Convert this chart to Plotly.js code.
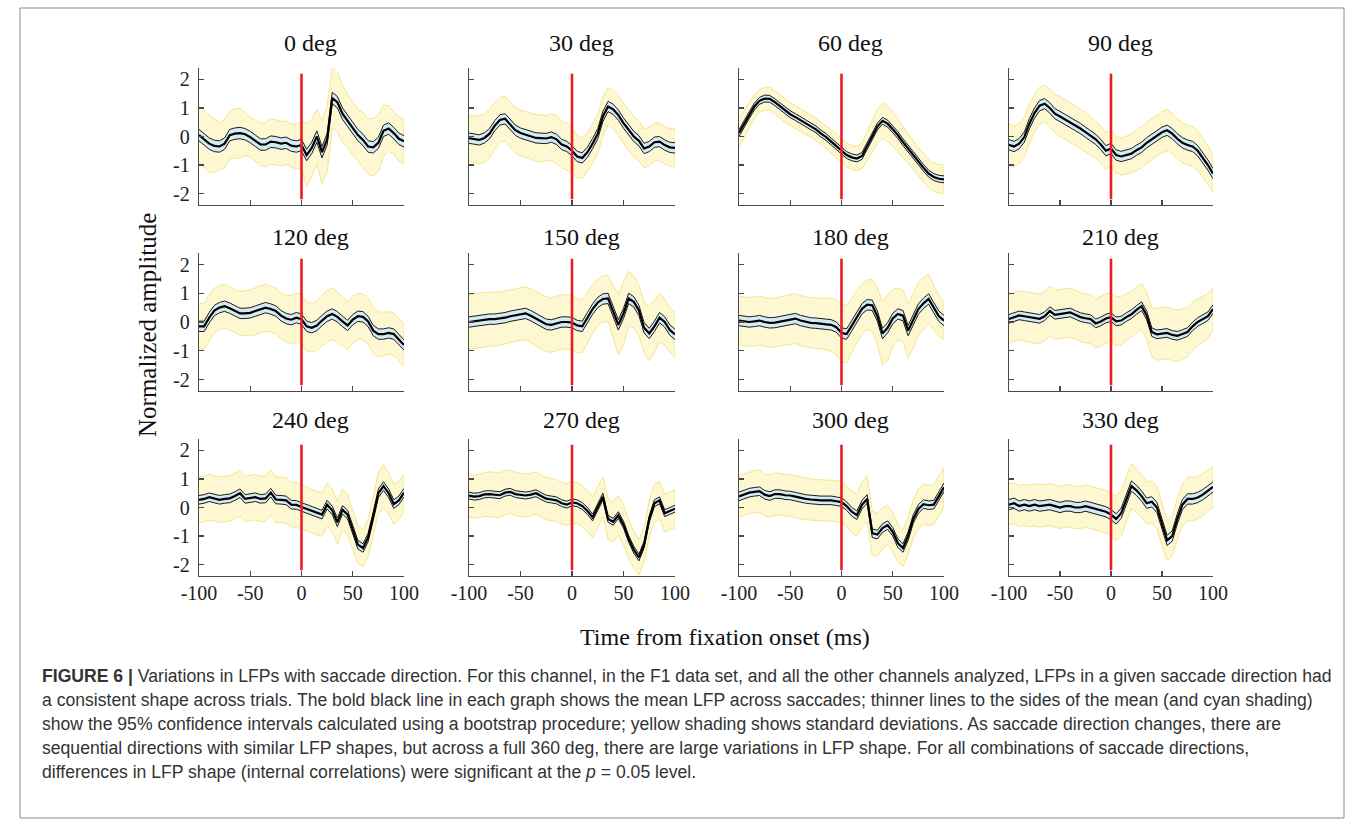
<!DOCTYPE html>
<html><head><meta charset="utf-8">
<script src="https://cdn.plot.ly/plotly-3.0.1.min.js"></script>
<style>html,body{margin:0;padding:0;background:#fff;}#chart{width:1354px;height:825px;}</style>
</head><body><div id="chart"></div>
<script>
// ---------- DATA ----------
const time = [-100,-95,-90,-85,-80,-75,-70,-65,-60,-55,-50,-45,-40,-35,-30,-25,-20,-15,-10,-5,0,5,10,15,20,25,30,35,40,45,50,55,60,65,70,75,80,85,90,95,100];
const directions = ['0 deg','30 deg','60 deg','90 deg','120 deg','150 deg','180 deg','210 deg','240 deg','270 deg','300 deg','330 deg'];
const xTickVals = [-100,-50,0,50,100];
const xTickText = ['-100','-50','0','50','100'];
const yTickVals = [-2,-1,0,1,2];
const yTickText = ['-2','-1','0','1','2'];
const onsetTime = [0,0];
const onsetSpan = [-2.2,2.2];

const mean_0 = [0.05,-0.1,-0.25,-0.33,-0.35,-0.25,0.05,0.1,0.12,0.08,-0.02,-0.15,-0.28,-0.28,-0.18,-0.2,-0.25,-0.22,-0.32,-0.35,-0.3,-0.65,-0.4,0.0,-0.55,-0.1,1.35,1.2,0.8,0.55,0.28,0.05,-0.12,-0.35,-0.38,-0.22,0.2,0.28,0.12,-0.08,-0.17];
const sd_0 = [0.97,0.98,1.0,0.92,0.83,0.84,0.85,0.86,0.87,0.75,0.7,0.72,0.75,0.78,0.8,0.79,0.78,0.76,0.75,0.78,0.84,1.1,1.0,0.95,1.1,1.15,1.05,1.05,1.0,0.92,0.93,0.9,0.96,0.98,1.0,1.0,0.9,0.8,0.73,0.78,0.78];
const mean_30 = [-0.06,-0.1,-0.12,-0.05,0.1,0.38,0.58,0.62,0.42,0.22,0.12,0.07,0.02,-0.05,-0.06,-0.07,-0.02,-0.1,-0.28,-0.35,-0.5,-0.7,-0.75,-0.55,-0.25,0.1,0.7,1.05,0.95,0.75,0.47,0.22,0.0,-0.15,-0.42,-0.35,-0.2,-0.18,-0.3,-0.38,-0.4];
const sd_30 = [0.8,0.82,0.85,0.85,0.85,0.82,0.8,0.78,0.8,0.8,0.8,0.8,0.8,0.82,0.82,0.8,0.82,0.85,0.82,0.82,0.8,0.75,0.7,0.68,0.7,0.7,0.68,0.65,0.68,0.7,0.7,0.72,0.72,0.7,0.68,0.68,0.66,0.66,0.66,0.66,0.68];
const mean_60 = [0.12,0.45,0.75,1.05,1.25,1.33,1.32,1.2,1.05,0.9,0.78,0.68,0.57,0.48,0.38,0.25,0.1,-0.02,-0.18,-0.33,-0.5,-0.65,-0.73,-0.77,-0.68,-0.35,0.0,0.35,0.55,0.45,0.25,0.05,-0.2,-0.43,-0.65,-0.88,-1.1,-1.3,-1.42,-1.48,-1.5];
const sd_60 = [0.5,0.48,0.45,0.42,0.4,0.4,0.4,0.4,0.4,0.4,0.4,0.4,0.4,0.4,0.4,0.4,0.4,0.4,0.42,0.42,0.42,0.42,0.42,0.42,0.45,0.5,0.55,0.6,0.62,0.62,0.6,0.58,0.55,0.52,0.5,0.5,0.5,0.5,0.5,0.5,0.5];
const mean_90 = [-0.29,-0.35,-0.25,-0.02,0.45,0.82,1.08,1.15,1.0,0.8,0.7,0.6,0.5,0.38,0.28,0.15,0.02,-0.1,-0.28,-0.5,-0.42,-0.65,-0.7,-0.65,-0.6,-0.48,-0.38,-0.22,-0.1,0.05,0.15,0.22,0.1,-0.08,-0.22,-0.3,-0.35,-0.5,-0.75,-1.0,-1.3];
const sd_90 = [0.72,0.72,0.7,0.7,0.68,0.66,0.65,0.64,0.66,0.68,0.7,0.7,0.7,0.7,0.68,0.68,0.66,0.65,0.64,0.64,0.64,0.64,0.65,0.66,0.68,0.7,0.72,0.72,0.72,0.72,0.72,0.72,0.7,0.7,0.7,0.7,0.7,0.69,0.68,0.68,0.67];
const mean_120 = [-0.15,-0.15,0.15,0.4,0.5,0.55,0.48,0.38,0.3,0.3,0.32,0.38,0.45,0.5,0.45,0.38,0.22,0.12,0.08,0.15,0.1,-0.15,-0.2,-0.12,0.05,0.2,0.28,0.18,0.02,-0.12,0.08,0.2,0.18,0.02,-0.3,-0.42,-0.42,-0.38,-0.42,-0.6,-0.8];
const sd_120 = [0.78,0.8,0.8,0.78,0.77,0.76,0.75,0.75,0.76,0.78,0.8,0.82,0.82,0.82,0.8,0.8,0.8,0.82,0.84,0.85,0.85,0.85,0.85,0.86,0.88,0.9,0.9,0.88,0.86,0.84,0.82,0.8,0.8,0.8,0.8,0.78,0.76,0.74,0.74,0.74,0.73];
const mean_150 = [0,0.03,0.06,0.08,0.1,0.1,0.12,0.15,0.2,0.24,0.28,0.3,0.22,0.12,0.0,-0.08,-0.1,-0.05,0.0,0.0,-0.02,-0.12,-0.15,0.15,0.45,0.68,0.8,0.82,0.35,-0.1,0.3,0.82,0.7,0.4,-0.2,-0.4,-0.15,0.15,0.0,-0.28,-0.43];
const sd_150 = [0.95,0.95,0.95,0.95,0.94,0.94,0.93,0.93,0.92,0.92,0.92,0.92,0.93,0.94,0.95,0.95,0.95,0.95,0.95,0.95,0.95,0.95,0.92,0.88,0.85,0.82,0.8,0.8,0.9,1.05,1.1,0.95,0.9,0.88,0.9,0.95,0.9,0.85,0.8,0.78,0.78];
const mean_180 = [0.05,0.02,0.0,0.02,0.05,0.0,-0.03,-0.02,0.02,0.05,0.08,0.12,0.05,0.0,-0.03,-0.04,-0.05,-0.08,-0.1,-0.18,-0.38,-0.42,-0.13,0.18,0.46,0.6,0.58,0.2,-0.4,-0.2,0.12,0.28,0.22,-0.3,0.05,0.45,0.65,0.8,0.5,0.2,0.05];
const sd_180 = [0.85,0.85,0.85,0.85,0.85,0.85,0.85,0.85,0.85,0.86,0.86,0.87,0.87,0.87,0.87,0.88,0.88,0.9,0.92,0.96,1.0,1.0,0.95,0.9,0.88,0.87,0.9,1.0,1.1,1.15,1.0,0.9,0.9,0.95,0.95,0.92,0.9,0.85,0.78,0.7,0.65];
const mean_210 = [0.11,0.18,0.23,0.2,0.17,0.12,0.11,0.2,0.38,0.25,0.28,0.3,0.33,0.25,0.17,0.13,0.1,-0.05,0.02,0.12,0.17,0.02,0.05,0.17,0.27,0.42,0.55,0.23,-0.35,-0.43,-0.4,-0.38,-0.45,-0.48,-0.42,-0.35,-0.15,0.0,0.1,0.2,0.45];
const sd_210 = [0.85,0.85,0.85,0.86,0.86,0.86,0.86,0.86,0.86,0.86,0.85,0.85,0.85,0.85,0.85,0.85,0.85,0.85,0.86,0.86,0.86,0.85,0.84,0.82,0.8,0.8,0.8,0.82,0.86,0.9,0.9,0.9,0.9,0.9,0.88,0.86,0.84,0.82,0.8,0.78,0.75];
const mean_240 = [0.27,0.3,0.36,0.32,0.27,0.3,0.32,0.4,0.5,0.3,0.34,0.36,0.3,0.32,0.52,0.28,0.27,0.25,0.1,0.09,0.02,-0.05,-0.12,-0.2,-0.25,0.1,-0.1,-0.52,-0.08,-0.25,-0.8,-1.3,-1.42,-1.05,-0.3,0.5,0.75,0.5,0.12,0.25,0.52];
const sd_240 = [0.8,0.8,0.8,0.8,0.8,0.8,0.8,0.8,0.8,0.8,0.8,0.8,0.8,0.8,0.8,0.8,0.8,0.8,0.78,0.78,0.78,0.78,0.76,0.76,0.76,0.75,0.75,0.75,0.72,0.7,0.68,0.66,0.65,0.66,0.68,0.72,0.75,0.72,0.7,0.68,0.65];
const mean_270 = [0.42,0.38,0.4,0.46,0.47,0.44,0.43,0.52,0.55,0.47,0.44,0.42,0.45,0.5,0.4,0.31,0.28,0.25,0.15,0.1,0.18,0.15,0.05,-0.12,-0.35,0.0,0.38,-0.4,-0.5,-0.27,-0.6,-1.1,-1.48,-1.75,-1.3,-0.4,0.15,0.25,-0.2,-0.12,-0.04];
const sd_270 = [0.75,0.76,0.76,0.77,0.78,0.78,0.78,0.77,0.76,0.76,0.75,0.75,0.75,0.74,0.74,0.74,0.74,0.74,0.73,0.73,0.73,0.72,0.72,0.72,0.72,0.7,0.7,0.7,0.7,0.7,0.7,0.68,0.65,0.62,0.62,0.64,0.66,0.66,0.66,0.66,0.66];
const mean_300 = [0.39,0.45,0.52,0.55,0.57,0.45,0.4,0.47,0.47,0.43,0.42,0.38,0.33,0.3,0.28,0.26,0.25,0.25,0.25,0.22,0.19,0.05,-0.15,-0.27,0.1,0.3,-0.9,-0.95,-0.72,-0.62,-0.85,-1.25,-1.42,-1.0,-0.4,-0.05,0.12,0.08,0.1,0.4,0.71];
const sd_300 = [0.73,0.73,0.73,0.74,0.74,0.74,0.74,0.74,0.73,0.73,0.73,0.73,0.73,0.73,0.72,0.72,0.72,0.72,0.72,0.72,0.72,0.72,0.72,0.74,0.78,0.8,0.78,0.75,0.72,0.7,0.68,0.66,0.65,0.66,0.68,0.7,0.7,0.7,0.7,0.7,0.7];
const mean_330 = [0.1,0.15,0.05,0.1,0.05,0.1,0.05,0.08,0.1,0.05,0.0,0.05,0.05,0.0,0.0,0.05,0.0,-0.05,-0.1,-0.15,-0.25,-0.4,-0.2,0.3,0.75,0.6,0.4,0.15,0.2,0.0,-0.6,-1.15,-1.0,-0.4,0.1,0.3,0.3,0.35,0.45,0.6,0.72];
const sd_330 = [0.72,0.72,0.72,0.73,0.73,0.74,0.74,0.74,0.74,0.74,0.74,0.74,0.74,0.74,0.74,0.74,0.74,0.74,0.74,0.75,0.76,0.78,0.8,0.8,0.78,0.76,0.75,0.74,0.74,0.74,0.72,0.7,0.7,0.72,0.74,0.76,0.76,0.75,0.74,0.72,0.72];
const ciHalfWidth = [0.2,0.18,0.12,0.18,0.18,0.18,0.18,0.15,0.15,0.12,0.15,0.18];

const means = [mean_0,mean_30,mean_60,mean_90,mean_120,mean_150,mean_180,mean_210,mean_240,mean_270,mean_300,mean_330];
const sds = [sd_0,sd_30,sd_60,sd_90,sd_120,sd_150,sd_180,sd_210,sd_240,sd_270,sd_300,sd_330];

const captionLines = [
 '<b>FIGURE 6 |</b> Variations in LFPs with saccade direction. For this channel, in the F1 data set, and all the other channels analyzed, LFPs in a given saccade direction had',
 'a consistent shape across trials. The bold black line in each graph shows the mean LFP across saccades; thinner lines to the sides of the mean (and cyan shading)',
 'show the 95% confidence intervals calculated using a bootstrap procedure; yellow shading shows standard deviations. As saccade direction changes, there are',
 'sequential directions with similar LFP shapes, but across a full 360 deg, there are large variations in LFP shape. For all combinations of saccade directions,',
 'differences in LFP shape (internal correlations) were significant at the <i>p</i> = 0.05 level.'
];

// ---------- LAYOUT GEOMETRY ----------
const W = 1354, H = 825;
const colLeft = [199,469,739,1009], colRight = [404,675,944,1213];
const rowTop = [68,253,439], rowBottom = [205,391,576];
const titleY = [43,237,420];
const serif = 'Liberation Serif, Times New Roman, serif';

const traces = [];
const layout = {
  width: W, height: H, margin:{l:0,r:0,t:0,b:0},
  paper_bgcolor:'#fff', plot_bgcolor:'rgba(0,0,0,0)', showlegend:false,
  annotations:[], shapes:[]
};

for (let i=0;i<12;i++){
  const r = Math.floor(i/4), c = i%4;
  const sfx = i===0 ? '' : String(i+1);
  const xa = 'x'+sfx, ya = 'y'+sfx;
  const m = means[i], s = sds[i], ci = ciHalfWidth[i];
  const sdUp = m.map((v,k)=>v+s[k]), sdLo = m.map((v,k)=>v-s[k]);
  const ciUp = m.map(v=>v+ci), ciLo = m.map(v=>v-ci);
  const polyX = time.concat(time.slice().reverse());
  // SD yellow band
  traces.push({x:polyX, y:sdUp.concat(sdLo.slice().reverse()), xaxis:xa, yaxis:ya, type:'scatter', mode:'lines',
    fill:'toself', fillcolor:'#fdf7d2', line:{color:'#f4e78e', width:1}, hoverinfo:'skip'});
  // CI cyan band
  traces.push({x:polyX, y:ciUp.concat(ciLo.slice().reverse()), xaxis:xa, yaxis:ya, type:'scatter', mode:'lines',
    fill:'toself', fillcolor:'#d4ebf3', line:{color:'rgba(0,0,0,0)', width:0}, hoverinfo:'skip'});
  traces.push({x:time, y:ciUp, xaxis:xa, yaxis:ya, type:'scatter', mode:'lines', line:{color:'#1a1a1a', width:1}, hoverinfo:'skip'});
  traces.push({x:time, y:ciLo, xaxis:xa, yaxis:ya, type:'scatter', mode:'lines', line:{color:'#1a1a1a', width:1}, hoverinfo:'skip'});
  // mean
  traces.push({x:time, y:m, xaxis:xa, yaxis:ya, type:'scatter', mode:'lines', line:{color:'#000', width:2.2}, hoverinfo:'skip'});
  // onset marker
  traces.push({x:onsetTime, y:onsetSpan, xaxis:xa, yaxis:ya, type:'scatter', mode:'lines', line:{color:'#ec1c24', width:2.6}, hoverinfo:'skip'});

  layout['xaxis'+sfx] = {
    domain:[colLeft[c]/W, colRight[c]/W], range:[-100,100], anchor:ya,
    showline:true, linecolor:'#4a4a4a', linewidth:1.3, ticks:'inside', ticklen:5, tickwidth:1.1, tickcolor:'#4a4a4a',
    tickmode:'array', tickvals:xTickVals, ticktext:xTickText, showticklabels: r===2,
    tickfont:{family:serif, size:20, color:'#222'}, ticklabelstandoff:-1,
    showgrid:false, zeroline:false, fixedrange:true
  };
  layout['yaxis'+sfx] = {
    domain:[1-rowBottom[r]/H, 1-rowTop[r]/H], range:[-2.4,2.4], anchor:xa,
    showline:true, linecolor:'#4a4a4a', linewidth:1.3, ticks:'inside', ticklen:5, tickwidth:1.1, tickcolor:'#4a4a4a',
    tickmode:'array', tickvals:yTickVals, ticktext:yTickText, showticklabels: c===0,
    tickfont:{family:serif, size:20, color:'#222'}, ticklabelstandoff:4,
    showgrid:false, zeroline:false, fixedrange:true
  };
  layout.annotations.push({text:directions[i], xref:'paper', yref:'paper',
    x:((colLeft[c]+colRight[c])/2+9)/W, y:1-titleY[r]/H, xanchor:'center', yanchor:'middle', showarrow:false,
    font:{family:serif, size:24, color:'#111'}});
}

layout.annotations.push({text:'Normalized amplitude', xref:'paper', yref:'paper', x:147/W, y:1-325/H, textangle:-90,
  xanchor:'center', yanchor:'middle', showarrow:false, font:{family:serif, size:25, color:'#111'}});
layout.annotations.push({text:'Time from fixation onset (ms)', xref:'paper', yref:'paper', x:725/W, y:1-637/H,
  xanchor:'center', yanchor:'middle', showarrow:false, font:{family:serif, size:24, color:'#111'}});

const capY = [676,700,724,748,772];
captionLines.forEach((t,k)=>{
  layout.annotations.push({text:t, xref:'paper', yref:'paper', x:40/W, y:1-capY[k]/H, xanchor:'left', yanchor:'middle',
    showarrow:false, align:'left', font:{family:'Liberation Sans Narrow, Liberation Sans, Arial, sans-serif', size:17.6, color:'#333'}});
});

layout.shapes.push({type:'rect', xref:'paper', yref:'paper', x0:20/W, x1:1344/W, y0:1-818/H, y1:1-8/H,
  line:{color:'#8a8a8a', width:1}, fillcolor:'rgba(0,0,0,0)', layer:'below'});

Plotly.newPlot('chart', traces, layout, {staticPlot:true, displayModeBar:false});
</script>
</body></html>
